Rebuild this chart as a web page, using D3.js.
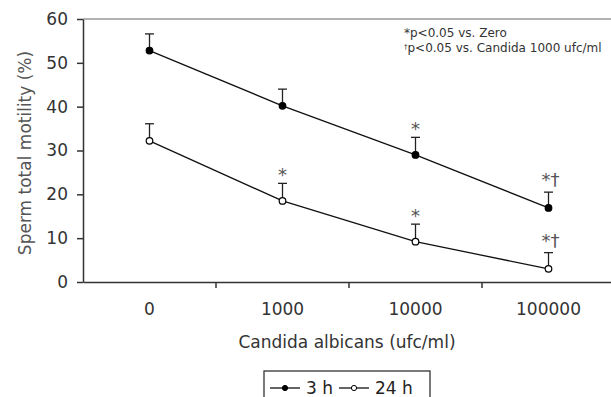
<!DOCTYPE html>
<html>
<head>
<meta charset="utf-8">
<script src="https://cdn.jsdelivr.net/npm/d3@7.9.0/dist/d3.min.js"></script>
<style>
  body { margin: 0; background: #fff; }
  svg { display: block; font-family: "DejaVu Sans", Verdana, sans-serif; }
</style>
</head>
<body>
<svg width="611" height="397"></svg>
<script>
const categories = ['0', '1000', '10000', '100000'];
const yTicks = [0, 10, 20, 30, 40, 50, 60];

// mean and upper error (mean + SD) per series
const mean3h = [52.8, 40.2, 29.0, 16.9];
const upper3h = [56.6, 44.0, 33.0, 20.5];
const mean24h = [32.2, 18.5, 9.2, 3.0];
const upper24h = [36.1, 22.5, 13.2, 6.7];

const marks3h = ['', '', '*', '*†'];
const marks24h = ['', '*', '*', '*†'];

const svg = d3.select('svg');
const x = d3.scaleBand().domain(categories).range([83, 615]);
const y = d3.scaleLinear().domain([0, 60]).range([282, 19]);
const axisColor = '#333';

// frame top line
svg.append('line')
  .attr('x1', 83).attr('x2', 611)
  .attr('y1', y(60)).attr('y2', y(60))
  .attr('stroke', '#666').attr('stroke-width', 1.2);

// y axis
const yAxis = svg.append('g')
  .attr('transform', 'translate(83,0)')
  .call(d3.axisLeft(y).tickValues(yTicks).tickSize(6).tickPadding(9).tickSizeOuter(0));
yAxis.select('.domain').attr('stroke', axisColor).attr('stroke-width', 1.5);
yAxis.selectAll('.tick line').attr('stroke', axisColor).attr('stroke-width', 1.5);
yAxis.selectAll('.tick text')
  .attr('font-size', 17).attr('fill', '#333')
  .attr('font-family', '"DejaVu Sans", Verdana, sans-serif');

// x axis
const xAxis = svg.append('g')
  .attr('transform', `translate(0,${y(0)})`)
  .call(d3.axisBottom(x).tickSize(0).tickPadding(21).tickSizeOuter(0));
xAxis.select('.domain').attr('stroke', axisColor).attr('stroke-width', 1.5);
xAxis.selectAll('.tick text')
  .attr('font-size', 17).attr('fill', '#333')
  .attr('font-family', '"DejaVu Sans", Verdana, sans-serif');
xAxis.selectAll('.boundary')
  .data(categories.slice(1))
  .join('line')
  .attr('x1', d => x(d)).attr('x2', d => x(d))
  .attr('y1', 0).attr('y2', 6)
  .attr('stroke', axisColor).attr('stroke-width', 1.5);

// axis titles
svg.append('text')
  .attr('transform', 'translate(25,153) rotate(-90)')
  .attr('text-anchor', 'middle')
  .attr('dominant-baseline', 'central')
  .attr('font-size', 17).attr('fill', '#555')
  .text('Sperm total motility (%)');

svg.append('text')
  .attr('x', 347).attr('y', 342)
  .attr('text-anchor', 'middle')
  .attr('dominant-baseline', 'central')
  .attr('font-size', 17).attr('fill', '#333')
  .text('Candida albicans (ufc/ml)');

// series
const cx = d => x(d) + x.bandwidth() / 2;
const series = [
  { mean: mean3h, upper: upper3h, fill: '#000', labels: marks3h },
  { mean: mean24h, upper: upper24h, fill: '#fff', labels: marks24h }
];

const line = d3.line().x((d, i) => cx(categories[i])).y(d => y(d));

series.forEach(s => {
  const g = svg.append('g');
  g.append('path')
    .attr('d', line(s.mean))
    .attr('fill', 'none').attr('stroke', '#111').attr('stroke-width', 1.3);

  categories.forEach((c, i) => {
    const px = cx(c);
    g.append('line')
      .attr('x1', px).attr('x2', px)
      .attr('y1', y(s.mean[i])).attr('y2', y(s.upper[i]))
      .attr('stroke', '#222').attr('stroke-width', 1.3);
    g.append('line')
      .attr('x1', px - 4.5).attr('x2', px + 4.5)
      .attr('y1', y(s.upper[i])).attr('y2', y(s.upper[i]))
      .attr('stroke', '#222').attr('stroke-width', 1.3);
    if (s.labels[i]) {
      const two = s.labels[i].length > 1;
      g.append('text')
        .attr('x', px + (two ? 2 : 0))
        .attr('y', y(s.upper[i]) - (two ? 6 : 2))
        .attr('text-anchor', 'middle')
        .attr('font-size', 18).attr('fill', '#555')
        .text(s.labels[i]);
    }
  });

  g.selectAll('circle')
    .data(s.mean)
    .join('circle')
    .attr('cx', (d, i) => cx(categories[i]))
    .attr('cy', d => y(d))
    .attr('r', 3.3)
    .attr('fill', s.fill)
    .attr('stroke', '#000').attr('stroke-width', 1.2);
});

// significance note
const note = svg.append('text')
  .attr('x', 404).attr('font-size', 12).attr('fill', '#333');
note.append('tspan').attr('x', 404).attr('y', 37).text('*p<0.05 vs. Zero');
const l2 = note.append('tspan').attr('x', 404).attr('y', 52);
l2.append('tspan').attr('font-size', 7).attr('dy', -3).text('†');
l2.append('tspan').attr('dy', 3).text('p<0.05 vs. Candida 1000 ufc/ml');

// legend
const legend = svg.append('g');
legend.append('rect')
  .attr('x', 264).attr('y', 371).attr('width', 166).attr('height', 40)
  .attr('fill', '#fff').attr('stroke', '#333').attr('stroke-width', 1.3);
const legendItems = [
  { label: '3 h', fill: '#000', x0: 270 },
  { label: '24 h', fill: '#fff', x0: 339 }
];
legendItems.forEach(d => {
  legend.append('line')
    .attr('x1', d.x0).attr('x2', d.x0 + 30)
    .attr('y1', 388).attr('y2', 388)
    .attr('stroke', '#111').attr('stroke-width', 1.3);
  legend.append('circle')
    .attr('cx', d.x0 + 15).attr('cy', 388).attr('r', 2.6)
    .attr('fill', d.fill).attr('stroke', '#000').attr('stroke-width', 1);
  legend.append('text')
    .attr('x', d.x0 + 36).attr('y', 388)
    .attr('dominant-baseline', 'central')
    .attr('font-size', 17).attr('fill', '#222')
    .text(d.label);
});
</script>
</body>
</html>
